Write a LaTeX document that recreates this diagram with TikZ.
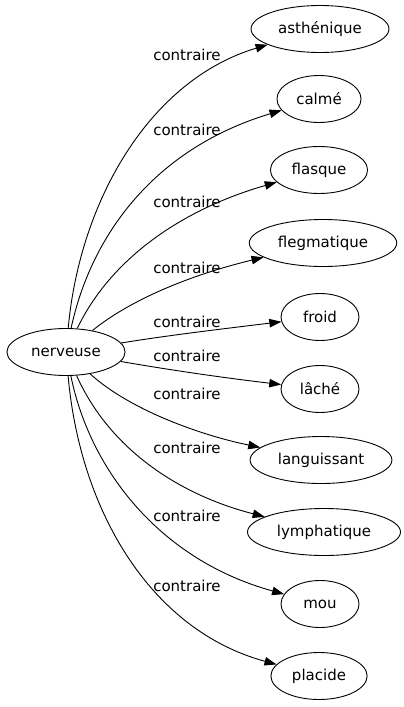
\documentclass[tikz,border=0pt]{standalone}
\usepackage{fontspec}
\setmainfont{DejaVu Sans}
\usetikzlibrary{arrows.meta,shapes.geometric}

\begin{document}
\begin{tikzpicture}[x=1pt, y=-1pt,
  wordbox/.style={draw, ellipse, line width=0.9pt, minimum height=47pt,
    minimum width=78pt, inner xsep=7pt, font=\fontsize{15}{18}\selectfont},
  lbl/.style={font=\fontsize{15}{18}\selectfont, inner sep=0pt},
  rel/.style={line width=0.9pt, -{Triangle[length=12pt,width=8.5pt]}}
]
\useasboundingbox (0,0) rectangle (404,707);

\node[wordbox] (nerveuse) at (66,352) {nerveuse};

\node[wordbox] (asthenique)  at (320,29)  {asthénique};
\node[wordbox] (calme)       at (319,99)  {calmé};
\node[wordbox] (flasque)     at (319,170) {flasque};
\node[wordbox] (flegmatique) at (323,243) {flegmatique};
\node[wordbox] (froid)       at (320,317) {froid};
\node[wordbox] (lache)       at (320,389) {lâché};
\node[wordbox] (languissant) at (321,460) {languissant};
\node[wordbox] (lymphatique) at (324,532) {lymphatique};
\node[wordbox] (mou)         at (320,604) {mou};
\node[wordbox] (placide)     at (319,676) {placide};

\node[lbl] (l1)  at (187,55)  {contraire};
\node[lbl] (l2)  at (187,130) {contraire};
\node[lbl] (l3)  at (187,202) {contraire};
\node[lbl] (l4)  at (187,268) {contraire};
\node[lbl] (l5)  at (187,322) {contraire};
\node[lbl] (l6)  at (187,356) {contraire};
\node[lbl] (l7)  at (187,394) {contraire};
\node[lbl] (l8)  at (187,448) {contraire};
\node[lbl] (l9)  at (187,516) {contraire};
\node[lbl] (l10) at (187,586) {contraire};

% edges above
\draw[rel] (nerveuse) .. controls (80,200) and (150,80) .. (asthenique);
\draw[rel] (nerveuse) .. controls (90,240) and (150,150) .. (calme);
\draw[rel] (nerveuse) .. controls (110,260) and (180,210) .. (flasque);
\draw[rel] (nerveuse) .. controls (130,300) and (190,275) .. (flegmatique);
\draw[rel] (nerveuse) .. controls (170,335) and (230,328) .. (froid);
% edges below
\draw[rel] (nerveuse) .. controls (170,370) and (225,378) .. (lache);
\draw[rel] (nerveuse) .. controls (130,410) and (200,435) .. (languissant);
\draw[rel] (nerveuse) .. controls (110,450) and (180,495) .. (lymphatique);
\draw[rel] (nerveuse) .. controls (90,470) and (160,560) .. (mou);
\draw[rel] (nerveuse) .. controls (80,510) and (150,630) .. (placide);
\end{tikzpicture}
\end{document}
